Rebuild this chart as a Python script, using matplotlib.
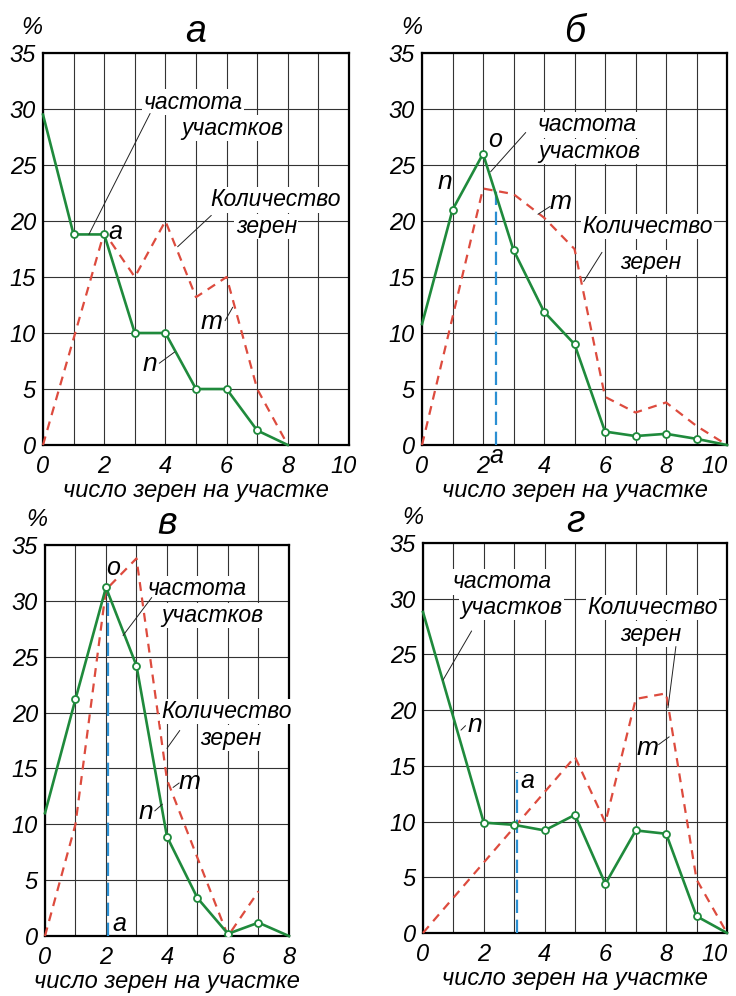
import matplotlib.pyplot as plt
import matplotlib.transforms as mtransforms
import numpy as np

plt.rcParams["font.family"] = ["Liberation Sans", "DejaVu Sans"]
plt.rcParams["font.style"] = "italic"

GREEN = "#1f8a3c"
RED = "#dd4b3e"
BLUE = "#2b8fd2"

# panel а
a_n_x = [0, 1, 2, 3, 4, 5, 6, 7, 8]
a_n_y = [29.5, 18.8, 18.8, 10, 10, 5, 5, 1.3, 0]
a_m_x = [0, 1, 2, 3, 4, 5, 6, 7, 8]
a_m_y = [0, 9.5, 19, 15, 20, 13.2, 15, 5, 0]

# panel б
b_n_x = [0, 1, 2, 3, 4, 5, 6, 7, 8, 9, 10]
b_n_y = [10.8, 21, 26, 17.4, 11.9, 9, 1.2, 0.8, 1.0, 0.55, 0]
b_m_x = [0, 1, 2, 3, 4, 5, 6, 7, 8, 9, 10]
b_m_y = [0, 11.4, 22.9, 22.4, 20.3, 17.5, 4.3, 2.9, 3.8, 1.7, 0]
b_a = 2.43

# panel в
v_n_x = [0, 1, 2, 3, 4, 5, 6, 7, 8]
v_n_y = [11, 21.2, 31.2, 24.2, 8.9, 3.4, 0.2, 1.2, 0]
v_m_x = [0, 1, 2, 3, 4, 5, 6, 7]
v_m_y = [0, 10, 31, 33.8, 14, 7, 0, 4]
v_a = 2.07

# panel г
g_n_x = [0, 2, 3, 4, 5, 6, 7, 8, 9, 10]
g_n_y = [28.8, 9.9, 9.7, 9.2, 10.6, 4.4, 9.2, 8.9, 1.5, 0]
g_m_x = [0, 5, 6, 7, 8, 9, 10]
g_m_y = [0, 15.8, 9.9, 21, 21.5, 4.8, 0]
g_a = 3.1


def draw_panel(ax, title, xmax, nx, ny, mx, my, a_x=None, a_top=None):
    ax.set_xlim(0, xmax)
    ax.set_ylim(0, 35)
    ax.set_xticks(np.arange(0, xmax + 1, 2))
    ax.set_xticks(np.arange(0, xmax + 1, 1), minor=True)
    ax.set_yticks(np.arange(0, 36, 5))
    ax.grid(True, which="both", color="#333333", lw=0.8)
    ax.set_axisbelow(True)
    ax.tick_params(which="both", length=0, labelsize=17)
    ax.tick_params(axis="y", pad=5)
    ax.tick_params(axis="x", pad=7)
    for lab in ax.get_xticklabels() + ax.get_yticklabels():
        lab.set_fontstyle("italic")
    for s in ax.spines.values():
        s.set_linewidth(1.6)
    ax.plot(mx, my, color=RED, ls=(0, (4, 3)), lw=1.6, clip_on=False, zorder=3)
    ax.plot(nx, ny, color=GREEN, lw=1.9, clip_on=False, zorder=4)
    inner = [i for i in range(1, len(nx) - 1)]
    ax.plot([nx[i] for i in inner], [ny[i] for i in inner], "o", ms=5,
            mfc="white", mec=GREEN, mew=1.3, zorder=5)
    if a_x is not None:
        ax.plot([a_x, a_x], [0, a_top], color=BLUE, ls=(0, (6, 3)), lw=1.6, zorder=3)
    ax.set_xlabel("число зерен на участке", fontsize=17, labelpad=1)
    ax.set_title(title, fontsize=27, pad=8)
    ax.text(-0.035, 1.065, "%", transform=ax.transAxes, ha="center", va="center", fontsize=17)


def shift_last_xlabel(ax, fig, dx_pt):
    # the "10" at the right edge sits a bit to the left, as in the original
    lab = ax.get_xticklabels()[-1]
    off = mtransforms.ScaledTranslation(dx_pt / 72, 0, fig.dpi_scale_trans)
    lab.set_transform(lab.get_transform() + off)


def label(ax, x, y, s, size=16.5, box=True):
    kw = dict(ha="center", va="center", fontsize=size, zorder=6)
    if box:
        kw["bbox"] = dict(facecolor="white", edgecolor="none", pad=1)
    ax.text(x, y, s, **kw)


def leader(ax, x0, y0, x1, y1):
    ax.annotate("", xy=(x1, y1), xytext=(x0, y0),
                arrowprops=dict(arrowstyle="-", lw=0.7, color="#222222",
                                shrinkA=0, shrinkB=0), zorder=6)


fig = plt.figure(figsize=(7.36, 9.96), dpi=100)
ax_a = fig.add_axes([0.0584, 0.5532, 0.4158, 0.3936])
ax_b = fig.add_axes([0.5734, 0.5532, 0.4144, 0.3936])
ax_v = fig.add_axes([0.0611, 0.0602, 0.3315, 0.3926])
ax_g = fig.add_axes([0.5747, 0.0633, 0.4130, 0.3916])

# а
draw_panel(ax_a, "а", 10, a_n_x, a_n_y, a_m_x, a_m_y)
label(ax_a, 4.9, 30.6, "частота")
label(ax_a, 6.2, 28.3, "участков")
leader(ax_a, 3.5, 29.6, 1.5, 18.8)
label(ax_a, 7.6, 21.9, "Количество")
label(ax_a, 7.3, 19.5, "зерен")
leader(ax_a, 5.5, 20.5, 4.4, 17.7)
label(ax_a, 2.35, 19.0, "а", size=18, box=False)
label(ax_a, 5.5, 11.0, "m", size=19, box=False)
leader(ax_a, 5.95, 11.1, 6.2, 12.3)
label(ax_a, 3.5, 7.2, "n", size=19, box=False)
leader(ax_a, 3.8, 7.3, 4.3, 8.3)
shift_last_xlabel(ax_a, fig, -4)

# б
draw_panel(ax_b, "б", 10, b_n_x, b_n_y, b_m_x, b_m_y, b_a, 22.7)
label(ax_b, 5.4, 28.6, "частота")
label(ax_b, 5.5, 26.2, "участков")
leader(ax_b, 3.4, 27.9, 2.25, 24.4)
label(ax_b, 2.4, 27.2, "о", size=18, box=False)
label(ax_b, 0.75, 23.5, "n", size=19, box=False)
label(ax_b, 4.55, 21.7, "m", size=19, box=False)
leader(ax_b, 4.2, 21.3, 3.8, 20.6)
label(ax_b, 7.4, 19.5, "Количество")
label(ax_b, 7.5, 16.3, "зерен")
leader(ax_b, 5.9, 17.2, 5.3, 14.6)
ax_b.text(b_a, -1.0, "а", ha="center", va="center", fontsize=18)
shift_last_xlabel(ax_b, fig, -9)

# в
draw_panel(ax_v, "в", 8, v_n_x, v_n_y, v_m_x, v_m_y, v_a, 31)
label(ax_v, 5.0, 31.1, "частота")
label(ax_v, 5.5, 28.7, "участков")
leader(ax_v, 3.5, 30.3, 2.56, 26.9)
label(ax_v, 2.25, 32.9, "о", size=18, box=False)
label(ax_v, 5.95, 20.1, "Количество")
label(ax_v, 6.1, 17.7, "зерен")
leader(ax_v, 4.42, 18.4, 4.0, 16.8)
label(ax_v, 4.75, 13.8, "m", size=19, box=False)
leader(ax_v, 4.4, 13.7, 4.2, 13.3)
label(ax_v, 3.3, 11.1, "n", size=19, box=False)
leader(ax_v, 3.6, 11.2, 3.85, 11.8)
label(ax_v, 2.45, 1.1, "а", size=18, box=False)

# г
draw_panel(ax_g, "г", 10, g_n_x, g_n_y, g_m_x, g_m_y, g_a, 14.4)
label(ax_g, 2.6, 31.5, "частота")
label(ax_g, 2.9, 29.2, "участков")
leader(ax_g, 1.6, 27.1, 0.66, 22.7)
label(ax_g, 1.7, 18.7, "n", size=19, box=False)
leader(ax_g, 1.4, 18.6, 1.25, 18.2)
label(ax_g, 7.55, 29.2, "Количество")
label(ax_g, 7.5, 26.8, "зерен")
leader(ax_g, 8.32, 25.7, 8.06, 20.2)
label(ax_g, 7.4, 16.6, "m", size=19, box=False)
leader(ax_g, 7.75, 16.9, 8.1, 17.6)
label(ax_g, 3.45, 13.6, "а", size=18, box=False)
shift_last_xlabel(ax_g, fig, -9)

fig.savefig("out.png", dpi=100)
